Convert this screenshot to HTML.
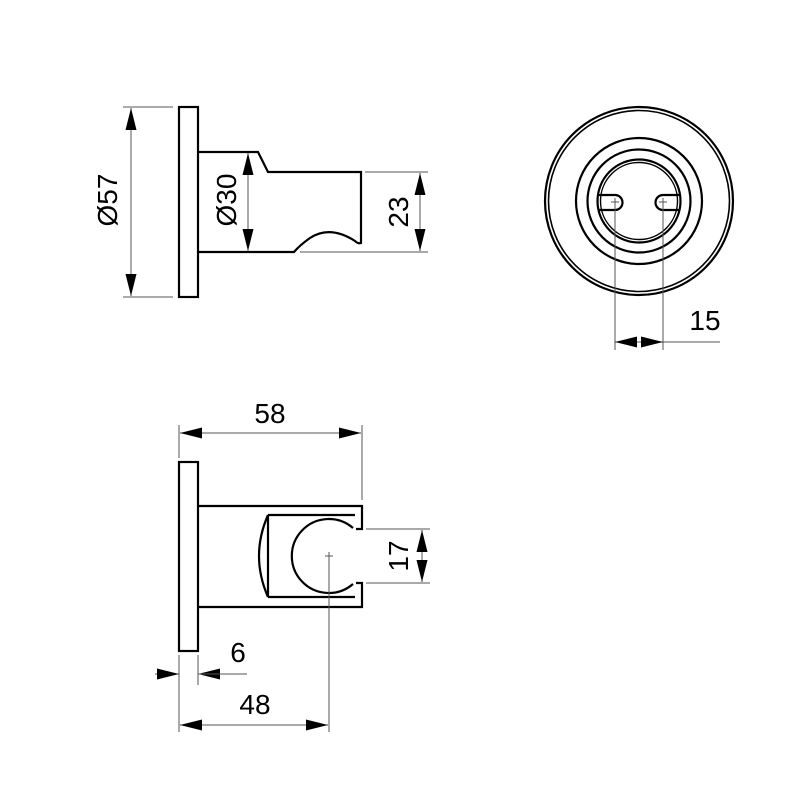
<!DOCTYPE html>
<html><head><meta charset="utf-8"><style>html,body{margin:0;padding:0;background:#fff}svg{display:block}</style></head>
<body>
<svg width="800" height="800" viewBox="0 0 800 800" xmlns="http://www.w3.org/2000/svg" font-family="Liberation Sans, sans-serif" font-size="28">
<defs>
<marker id="a" viewBox="0 0 20 10" refX="20" refY="5" markerWidth="22" markerHeight="11" markerUnits="userSpaceOnUse" orient="auto-start-reverse" preserveAspectRatio="none"><path d="M0,0L20,5L0,10z" fill="#000"/></marker>
</defs>
<g fill="none" stroke="#000" stroke-width="2.2">
<rect x="179" y="107" width="19" height="190"/>
<path d="M198,152 H258 L268,172 H361 V243 Q358,244 355,241 Q330,225 310,238 Q300,245 294,252 H198"/>
<rect x="179" y="462" width="19" height="189"/>
<path d="M198,506 H362 V529 H356"/>
<path d="M198,607 H362 V583 H356"/>
<path d="M268,515 H355 M268,597 H355 M268,515 V597"/>
<path d="M268,515 Q250,556 268,597"/>
<path d="M353,528 A37,37 0 1 0 353,584"/>
<circle cx="639" cy="201" r="94"/>
<circle cx="639" cy="201" r="90.5" stroke-width="1.6"/>
<circle cx="639" cy="201" r="63"/>
<circle cx="639" cy="201" r="51.5"/>
<circle cx="639" cy="201" r="41.5"/>
<circle cx="639" cy="201" r="38.5" stroke-width="1.4"/>
<path d="M599,195 H615 A7.5,7.5 0 0 1 615,210 H599"/>
<path d="M679,195 H663 A7.5,7.5 0 0 0 663,210 H679"/>
</g>
<g fill="none" stroke="#555" stroke-width="1">
<path d="M123,107 H173 M123,297 H173"/>
<path d="M131,108 V296" marker-start="url(#a)" marker-end="url(#a)"/>
<path d="M248,153 V251" marker-start="url(#a)" marker-end="url(#a)"/>
<path d="M365,172 H428 M300,252 H428"/>
<path d="M420,173 V251" marker-start="url(#a)" marker-end="url(#a)"/>
<path d="M615,205 V350 M663,205 V350"/>
<path d="M639,342 H615" marker-end="url(#a)"/>
<path d="M639,342 H663" marker-end="url(#a)"/>
<path d="M663,342 H720"/>
<path d="M611,202 H619 M615,198 V206 M659,202 H667 M663,198 V206"/>
<path d="M179,425 V458 M362,425 V500"/>
<path d="M180,433 H361" marker-start="url(#a)" marker-end="url(#a)"/>
<path d="M366,529 H430 M366,583 H430"/>
<path d="M422,530 V582" marker-start="url(#a)" marker-end="url(#a)"/>
<path d="M179,655 V732 M198,655 V685 M329,560 V732"/>
<path d="M155,674 H179" marker-end="url(#a)"/>
<path d="M222,674 H198" marker-end="url(#a)"/>
<path d="M198,674 H247"/>
<path d="M180,725 H328" marker-start="url(#a)" marker-end="url(#a)"/>
<path d="M325,556 H333 M329,552 V560"/>
</g>
<g fill="#000">
<text transform="translate(117,200) rotate(-90)" text-anchor="middle">Ø57</text>
<text transform="translate(236,200) rotate(-90)" text-anchor="middle">Ø30</text>
<text transform="translate(408,212) rotate(-90)" text-anchor="middle">23</text>
<text x="705" y="330" text-anchor="middle">15</text>
<text x="270" y="423" text-anchor="middle">58</text>
<text transform="translate(408,556) rotate(-90)" text-anchor="middle">17</text>
<text x="238" y="662" text-anchor="middle">6</text>
<text x="255" y="714" text-anchor="middle">48</text>
</g>
</svg>
</body></html>
